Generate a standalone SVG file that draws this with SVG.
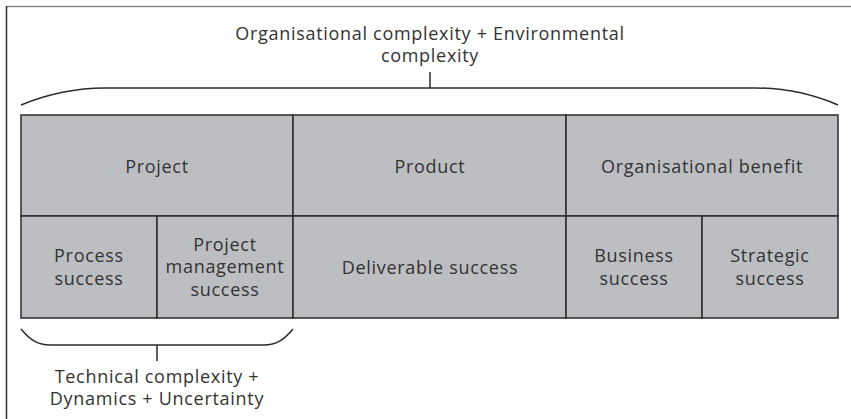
<svg xmlns="http://www.w3.org/2000/svg" width="851" height="419" viewBox="0 0 851 419">
<style>
.cell{fill:#bdbec1;stroke:#2b2b2b;stroke-width:1.5}
.t{font-family:"Open Sans","Liberation Sans",sans-serif;font-size:18px;letter-spacing:0.7px;fill:#333;text-anchor:middle}
.ln{fill:none;stroke:#2b2b2b;stroke-width:1.5}
</style>
<rect width="851" height="419" fill="#fff"/>
<line x1="6" y1="6.5" x2="851" y2="6.5" stroke="#8a8a8a" stroke-width="1.5"/>
<line x1="6.5" y1="6" x2="6.5" y2="419" stroke="#333" stroke-width="1.5"/>
<g id="project"><rect class="cell" x="21" y="115" width="272" height="101"/><text class="t" x="157" y="173">Project</text></g>
<g id="product"><rect class="cell" x="293" y="115" width="273" height="101"/><text class="t" x="430" y="173">Product</text></g>
<g id="orgbenefit"><rect class="cell" x="566" y="115" width="272" height="101"/><text class="t" x="702" y="173">Organisational benefit</text></g>
<g id="process"><rect class="cell" x="21" y="216" width="136" height="102"/><text class="t" x="89" y="262">Process</text><text class="t" x="89" y="285">success</text></g>
<g id="pm"><rect class="cell" x="157" y="216" width="136" height="102"/><text class="t" x="225" y="251">Project</text><text class="t" x="225" y="273">management</text><text class="t" x="225" y="296">success</text></g>
<g id="deliverable"><rect class="cell" x="293" y="216" width="273" height="102"/><text class="t" x="430" y="274">Deliverable success</text></g>
<g id="business"><rect class="cell" x="566" y="216" width="136" height="102"/><text class="t" x="634" y="262">Business</text><text class="t" x="634" y="285">success</text></g>
<g id="strategic"><rect class="cell" x="702" y="216" width="136" height="102"/><text class="t" x="770" y="262">Strategic</text><text class="t" x="770" y="285">success</text></g>
<g id="connectors">
<path class="ln" d="M21,105 C50,93 75,88 105,88 L755,88 C785,88 810,93 838,105"/>
<line class="ln" x1="430" y1="72" x2="430" y2="88"/>
<path class="ln" d="M21,329 C30,340 38,345 50,345 L264,345 C276,345 284,340 293,329"/>
<line class="ln" x1="157" y1="345" x2="157" y2="361"/>
</g>
<g id="top-label"><text class="t" x="430" y="40">Organisational complexity + Environmental</text><text class="t" x="430" y="62">complexity</text></g>
<g id="bottom-label"><text class="t" x="157" y="383">Technical complexity +</text><text class="t" x="157" y="405">Dynamics + Uncertainty</text></g>
</svg>
